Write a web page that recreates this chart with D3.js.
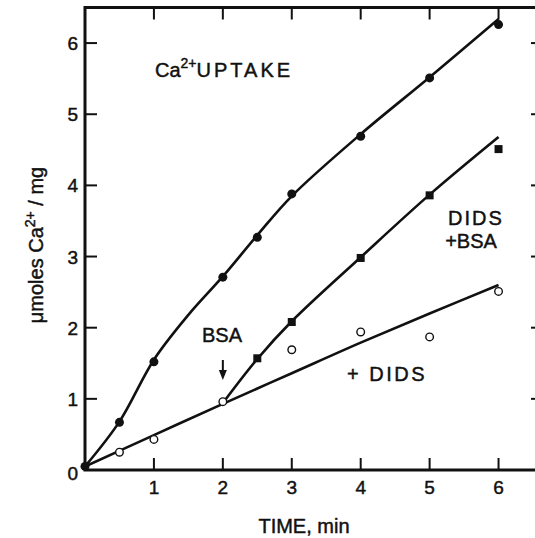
<!DOCTYPE html>
<html>
<head>
<meta charset="utf-8">
<script src="https://cdn.jsdelivr.net/npm/d3@7"></script>
<style>
  body { margin: 0; background: #fff; }
  svg text { font-family: "Liberation Sans", Arial, sans-serif; fill: #111; stroke: #111; stroke-width: 0.45px; }
</style>
</head>
<body>
<svg id="chart" width="535" height="538"></svg>
<script>
// measured points
var uptakeT = [0, 0.5, 1, 2, 2.5, 3, 4, 5, 6];
var uptakeV = [0.05, 0.67, 1.52, 2.71, 3.27, 3.88, 4.69, 5.51, 6.26];

var didsBsaT = [2.5, 3, 4, 5, 6];
var didsBsaV = [1.57, 2.08, 2.98, 3.86, 4.51];

var didsT = [0.5, 1, 2, 3, 4, 5, 6];
var didsV = [0.25, 0.43, 0.96, 1.69, 1.94, 1.87, 2.51];

// hand drawn curves through the points
var uptakeFitT = [0, 0.5, 1, 1.5, 2, 2.5, 3, 4, 5, 6];
var uptakeFitV = [0.05, 0.68, 1.55, 2.18, 2.72, 3.3, 3.85, 4.72, 5.52, 6.34];
var didsBsaFitT = [2, 2.5, 3, 4, 5, 6];
var didsBsaFitV = [0.94, 1.56, 2.09, 2.99, 3.87, 4.68];
var didsFitT = [0, 1, 2, 3, 4, 5, 6];
var didsFitV = [0.05, 0.49, 0.93, 1.36, 1.79, 2.2, 2.6];

var xTicks = [1, 2, 3, 4, 5, 6];
var yTicks = [0, 1, 2, 3, 4, 5, 6];

var svg = d3.select('#chart');
var x = d3.scaleLinear().domain([0, 6.5]).range([85, 533]);
var y = d3.scaleLinear().domain([0, 6.5]).range([470, 7.5]);
var fL = 85, fR = 543, fT = 7.5, fB = 470;
var tk = 12;

function zip(a, b){ return a.map(function(d, i){ return [d, b[i]]; }); }

// frame
svg.append('rect')
  .attr('x', fL).attr('y', fT)
  .attr('width', fR - fL).attr('height', fB - fT)
  .attr('fill', 'none').attr('stroke', '#111').attr('stroke-width', 3);

// ticks (all pointing inward)
var g = svg.append('g').attr('stroke', '#111').attr('stroke-width', 2);
xTicks.forEach(function(t){
  g.append('line').attr('x1', x(t)).attr('x2', x(t)).attr('y1', fB).attr('y2', fB - tk);
  g.append('line').attr('x1', x(t)).attr('x2', x(t)).attr('y1', fT).attr('y2', fT + tk);
});
yTicks.slice(1).forEach(function(t){
  g.append('line').attr('x1', fL).attr('x2', fL + tk).attr('y1', y(t)).attr('y2', y(t));
  g.append('line').attr('x1', fR).attr('x2', fR - tk).attr('y1', y(t)).attr('y2', y(t));
});

// tick labels
svg.selectAll('.xl').data(xTicks).enter().append('text')
  .attr('x', function(d){ return x(d); }).attr('y', 494)
  .attr('text-anchor', 'middle').attr('font-size', 19).text(function(d){ return d; });
svg.selectAll('.yl').data(yTicks).enter().append('text')
  .attr('x', 78).attr('y', function(d){ return y(d) + (d === 0 ? 10 : 7); })
  .attr('text-anchor', 'end').attr('font-size', 19).text(function(d){ return d; });

// axis titles
svg.append('text').attr('x', 304).attr('y', 533).attr('text-anchor', 'middle')
  .attr('font-size', 20).text('TIME, min');

var yl = svg.append('text').attr('transform', 'translate(43,245) rotate(-90)')
  .attr('text-anchor', 'middle').attr('font-size', 20);
yl.append('tspan').text('\u03bcmoles Ca');
yl.append('tspan').attr('font-size', 14).attr('dy', -8).text('2+');
yl.append('tspan').attr('dy', 8).text(' / mg');

// curves
var line = d3.line()
  .x(function(d){ return x(d[0]); })
  .y(function(d){ return y(d[1]); })
  .curve(d3.curveCatmullRom.alpha(0.5));

[zip(uptakeFitT, uptakeFitV), zip(didsBsaFitT, didsBsaFitV), zip(didsFitT, didsFitV)].forEach(function(p){
  svg.append('path').attr('d', line(p))
    .attr('fill', 'none').attr('stroke', '#111').attr('stroke-width', 2.6);
});

// markers
svg.selectAll('.up').data(zip(uptakeT, uptakeV)).enter().append('circle')
  .attr('cx', function(d){ return x(d[0]); }).attr('cy', function(d){ return y(d[1]); })
  .attr('r', 4.5).attr('fill', '#111');

svg.selectAll('.sq').data(zip(didsBsaT, didsBsaV)).enter().append('rect')
  .attr('x', function(d){ return x(d[0]) - 4; }).attr('y', function(d){ return y(d[1]) - 4; })
  .attr('width', 8).attr('height', 8).attr('fill', '#111');

svg.selectAll('.op').data(zip(didsT, didsV)).enter().append('circle')
  .attr('cx', function(d){ return x(d[0]); }).attr('cy', function(d){ return y(d[1]); })
  .attr('r', 3.8).attr('fill', '#fff').attr('stroke', '#111').attr('stroke-width', 1.4);

// annotations
var t1 = svg.append('text').attr('x', 155).attr('y', 77).attr('font-size', 20);
t1.append('tspan').text('Ca');
t1.append('tspan').attr('font-size', 14).attr('dy', -9).text('2+');
t1.append('tspan').attr('dy', 9).attr('letter-spacing', 3).text('UPTAKE');

svg.append('text').attr('x', 476).attr('y', 225).attr('text-anchor', 'middle')
  .attr('font-size', 20).attr('letter-spacing', 2).text('DIDS');
svg.append('text').attr('x', 471).attr('y', 248).attr('text-anchor', 'middle')
  .attr('font-size', 20).text('+BSA');

svg.append('text').attr('x', 222).attr('y', 342).attr('text-anchor', 'middle')
  .attr('font-size', 20).text('BSA');
svg.append('text').attr('x', 347).attr('y', 381)
  .attr('font-size', 20).attr('letter-spacing', 2.5).text('+ DIDS');

// arrow
svg.append('line').attr('x1', x(2)).attr('x2', x(2)).attr('y1', 360).attr('y2', 372)
  .attr('stroke', '#111').attr('stroke-width', 2);
svg.append('path')
  .attr('d', 'M' + (x(2) - 4) + ',370 L' + (x(2) + 4) + ',370 L' + x(2) + ',380 Z')
  .attr('fill', '#111');
</script>
</body>
</html>
